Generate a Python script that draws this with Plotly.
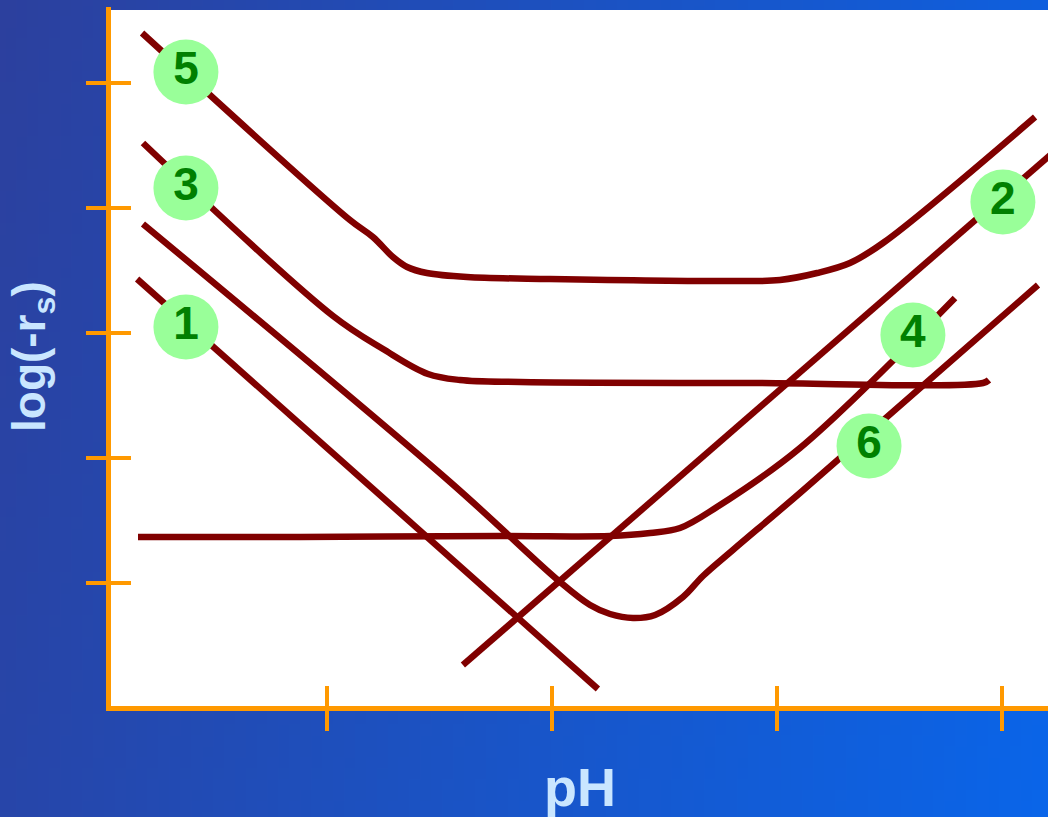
import base64
import struct
import zlib

import plotly.graph_objects as go

# ---- curve data (x: pH in tick units, y: log(-r_s) in tick units) ----
line1_x = [0.156, 2.204]
line1_y = [3.432, 0.152]

line2_x = [1.604, 4.24]
line2_y = [0.344, 4.464]

line3_x = [0.182, 1.027, 1.249, 1.449, 1.591, 1.858, 2.88, 3.916, 3.942]
line3_y = [4.52, 3.136, 2.872, 2.672, 2.624, 2.608, 2.6, 2.6, 2.624]

line4_x = [0.16, 0.88, 1.769, 2.258, 2.436, 2.569, 2.733, 3.102, 3.791]
line4_y = [1.368, 1.368, 1.376, 1.376, 1.4, 1.44, 1.608, 2.08, 3.28]

line5_x = [0.178, 1.102, 1.204, 1.293, 1.356, 1.444, 1.622, 1.991, 2.88, 3.013,
           3.178, 3.324, 3.471, 4.147]
line5_y = [5.4, 3.904, 3.768, 3.608, 3.528, 3.48, 3.448, 3.432, 3.416, 3.424,
           3.48, 3.56, 3.72, 4.728]

line6_x = [0.182, 1.547, 2.036, 2.169, 2.258, 2.36, 2.458, 2.582, 2.671,
           2.804, 3.102, 4.16]
line6_y = [3.872, 1.808, 1.008, 0.824, 0.752, 0.72, 0.744, 0.888, 1.056,
           1.264, 1.72, 3.384]

label_text = ["1", "2", "3", "4", "5", "6"]
label_x = [0.373, 4.004, 0.373, 3.604, 0.373, 3.409]
label_y = [3.048, 4.048, 4.16, 2.984, 5.088, 2.096]

x_ticks = [1, 2, 3, 4]
y_ticks = [1, 2, 3, 4, 5]

# ---- figure geometry ----
W, H = 1048, 817
ML, MR, MT, MB = 111, 0, 7, 111
PW, PH = W - ML - MR, H - MT - MB
X_RANGE = [0.04, 4.2044]
Y_RANGE = [0.016, 5.608]

ORANGE = "#FF9900"
MAROON = "#800000"
TITLE_COLOR = "#C9E6FF"
FONT = "Liberation Sans, Arial, sans-serif"


def gradient_png(w, h, c0, c1, wx, wy):
    """Small diagonal-gradient PNG as a data URI, stretched behind the chart."""
    rows = []
    for j in range(h):
        row = bytearray([0])
        for i in range(w):
            t = wx * i / (w - 1) + wy * j / (h - 1)
            row += bytes(int(round(a + (b - a) * t)) for a, b in zip(c0, c1))
        rows.append(bytes(row))
    raw = b"".join(rows)

    def chunk(tag, data):
        return (struct.pack(">I", len(data)) + tag + data
                + struct.pack(">I", zlib.crc32(tag + data) & 0xFFFFFFFF))

    png = (b"\x89PNG\r\n\x1a\n"
           + chunk(b"IHDR", struct.pack(">IIBBBBB", w, h, 8, 2, 0, 0, 0))
           + chunk(b"IDAT", zlib.compress(raw, 9))
           + chunk(b"IEND", b""))
    return "data:image/png;base64," + base64.b64encode(png).decode()


bg = gradient_png(96, 75, (44, 64, 158), (10, 101, 233), 0.85, 0.15)

fig = go.Figure()

curves = [
    (line1_x, line1_y, "linear"),
    (line2_x, line2_y, "linear"),
    (line3_x, line3_y, "spline"),
    (line4_x, line4_y, "spline"),
    (line5_x, line5_y, "spline"),
    (line6_x, line6_y, "spline"),
]
for xs, ys, shape in curves:
    fig.add_trace(go.Scatter(
        x=xs, y=ys, mode="lines",
        line=dict(color=MAROON, width=6.5, shape=shape, smoothing=1.0),
        hoverinfo="skip", showlegend=False,
    ))

# numbered badges, on the overlaid axes so they sit above every curve
fig.add_trace(go.Scatter(
    x=label_x, y=label_y, mode="markers+text",
    text=label_text, textposition="middle center",
    marker=dict(size=65, color="#99FF99", line=dict(width=0)),
    textfont=dict(family=FONT, size=46, color="#008000", weight="bold"),
    xaxis="x2", yaxis="y2", hoverinfo="skip", showlegend=False,
))

axis_common = dict(
    showgrid=False, zeroline=False, showticklabels=False,
    showline=True, linecolor=ORANGE, linewidth=5,
    tickcolor=ORANGE, tickwidth=4, ticklen=20, fixedrange=True,
)

fig.update_layout(
    width=W, height=H,
    margin=dict(l=ML, r=MR, t=MT, b=MB),
    paper_bgcolor="#2252C0",
    plot_bgcolor="white",
    xaxis=dict(range=X_RANGE, tickvals=x_ticks, ticks="outside", **axis_common),
    yaxis=dict(range=Y_RANGE, tickvals=y_ticks, ticks="outside", **axis_common),
    xaxis2=dict(range=X_RANGE, tickvals=x_ticks, ticks="inside", overlaying="x",
                anchor="y2", side="bottom", **axis_common),
    yaxis2=dict(range=Y_RANGE, tickvals=y_ticks, ticks="inside", overlaying="y",
                anchor="x2", side="left", **axis_common),
    images=[dict(
        source=bg, xref="paper", yref="paper",
        x=-ML / PW, y=1 + MT / PH, sizex=W / PW, sizey=H / PH,
        xanchor="left", yanchor="top", sizing="stretch", layer="below",
    )],
    shapes=[dict(
        type="rect", xref="paper", yref="paper",
        x0=0, x1=1, y0=0, y1=(PH + MT - 10) / PH,
        fillcolor="white", line=dict(width=0), layer="below",
    )],
    annotations=[
        dict(text="pH", xref="paper", yref="paper",
             x=(580 - ML) / PW, y=(MT + PH - 787) / PH,
             xanchor="center", yanchor="middle", showarrow=False,
             font=dict(family=FONT, size=54, color=TITLE_COLOR, weight="bold")),
        dict(text="log(-r<sub>s</sub>)", xref="paper", yref="paper",
             x=(32 - ML) / PW, y=(MT + PH - 357) / PH,
             xanchor="center", yanchor="middle", textangle=-90, showarrow=False,
             font=dict(family=FONT, size=46, color=TITLE_COLOR, weight="bold")),
    ],
)

fig.write_html("out.html")
